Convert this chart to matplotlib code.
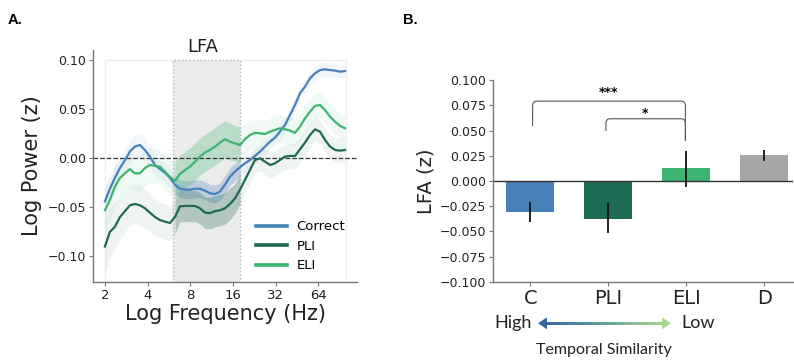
import numpy as np
import matplotlib
matplotlib.use("Agg")
import matplotlib.pyplot as plt
from matplotlib.patches import Rectangle, Polygon, PathPatch
from matplotlib.path import Path
from matplotlib.colors import LinearSegmentedColormap

# ---- data: panel A (power spectra) ----
freqs = [2.00, 2.17, 2.35, 2.55, 2.77, 3.00, 3.26, 3.53, 3.83, 4.15, 4.51, 4.89,
         5.30, 5.75, 6.24, 6.76, 7.34, 7.96, 8.63, 9.36, 10.15, 11.01, 11.94,
         12.95, 14.05, 15.24, 16.53, 17.93, 19.44, 21.09, 22.87, 24.81, 26.91,
         29.19, 31.66, 34.33, 37.25, 40.40, 43.81, 47.52, 51.55, 55.92, 60.64,
         65.78, 71.35, 77.39, 83.94, 91.05, 98.76]

correct = [-0.044, -0.031, -0.020, -0.010, -0.002, 0.007, 0.012,
           0.0136, 0.0085, 0.0017, -0.0068, -0.011, -0.0146, -0.020,
           -0.027, -0.031, -0.032, -0.032, -0.031, -0.031, -0.033,
           -0.0357, -0.0364, -0.034, -0.027, -0.0187, -0.0136, -0.0092,
           -0.0051, -0.0017, 0.0024, 0.0068, 0.0119, 0.017, 0.021,
           0.0272, 0.034, 0.0442, 0.0544, 0.0663, 0.0731, 0.0816,
           0.0867, 0.090, 0.0908, 0.090, 0.0895, 0.0884, 0.089]
pli = [-0.090, -0.075, -0.070, -0.060, -0.054, -0.048, -0.0466,
       -0.048, -0.051, -0.0554, -0.060, -0.063, -0.0646, -0.066,
       -0.060, -0.049, -0.0486, -0.0486, -0.0486, -0.051, -0.0554,
       -0.056, -0.054, -0.053, -0.051, -0.0466, -0.041, -0.032,
       -0.022, -0.012, -0.0017, 0.0, -0.0034, -0.0068, -0.0051,
       -0.0017, 0.0017, 0.0024, 0.0024, 0.0092, 0.016, 0.0238,
       0.0296, 0.0272, 0.0187, 0.012, 0.0085, 0.0078, 0.0085]
eli = [-0.053, -0.0425, -0.029, -0.020, -0.0153, -0.011, -0.0153,
       -0.0153, -0.010, -0.0068, -0.0078, -0.0085, -0.0136, -0.019,
       -0.023, -0.016, -0.012, -0.0085, -0.0034, 0.0017, 0.0058,
       0.0085, 0.0119, 0.016, 0.0194, 0.017, 0.0153, 0.0136,
       0.0194, 0.0238, 0.026, 0.0255, 0.0248, 0.0272, 0.029,
       0.0306, 0.0296, 0.0282, 0.026, 0.0323, 0.0408, 0.0476,
       0.0534, 0.0544, 0.0493, 0.0425, 0.0374, 0.033, 0.0306]

correct_sem = [0.016, 0.015, 0.014, 0.013, 0.012, 0.012, 0.012,
               0.012, 0.012, 0.011, 0.011, 0.010, 0.010, 0.010,
               0.010, 0.009, 0.009, 0.009, 0.009, 0.009, 0.009,
               0.009, 0.009, 0.009, 0.009, 0.009, 0.009, 0.009,
               0.008, 0.008, 0.008, 0.008, 0.008, 0.008, 0.008,
               0.008, 0.008, 0.008, 0.008, 0.007, 0.007, 0.007,
               0.007, 0.007, 0.007, 0.007, 0.006, 0.006, 0.006]
pli_sem = [0.028, 0.026, 0.024, 0.022, 0.021, 0.020, 0.020,
           0.020, 0.020, 0.019, 0.019, 0.018, 0.018, 0.018,
           0.017, 0.016, 0.016, 0.016, 0.016, 0.016, 0.016,
           0.016, 0.016, 0.016, 0.016, 0.016, 0.015, 0.015,
           0.014, 0.014, 0.013, 0.013, 0.013, 0.013, 0.013,
           0.013, 0.013, 0.013, 0.013, 0.013, 0.013, 0.013,
           0.012, 0.012, 0.012, 0.012, 0.012, 0.012, 0.012]
eli_sem = [0.022, 0.021, 0.020, 0.019, 0.018, 0.018, 0.018,
           0.018, 0.018, 0.018, 0.018, 0.018, 0.018, 0.018,
           0.019, 0.019, 0.019, 0.019, 0.019, 0.019, 0.019,
           0.019, 0.019, 0.019, 0.019, 0.019, 0.018, 0.018,
           0.016, 0.015, 0.014, 0.014, 0.014, 0.014, 0.014,
           0.014, 0.014, 0.014, 0.014, 0.014, 0.014, 0.014,
           0.013, 0.013, 0.013, 0.013, 0.013, 0.013, 0.013]

lfa_band = [6, 18]
freq_ticks = [2, 4, 8, 16, 32, 64]

# ---- data: panel B (LFA bars) ----
conditions = ["C", "PLI", "ELI", "D"]
lfa_mean = [-0.0303, -0.0375, 0.0128, 0.026]
lfa_lo = [-0.0408, -0.0517, -0.0056, 0.020]
lfa_hi = [-0.0204, -0.022, 0.030, 0.0306]

col_c = "#4682b9"
col_pli = "#1e6a55"
col_eli = "#3db470"
col_d = "#a6a6a6"

W, H = 794, 360
fig = plt.figure(figsize=(W / 100, H / 100), dpi=100)
spine_col = "#777777"
txt_col = "#222222"


def px_axes(left, top, right, bottom):
    return fig.add_axes([left / W, 1 - bottom / H, (right - left) / W, (bottom - top) / H])


# ================= Panel A =================
axA = px_axes(92.7, 50, 357.3, 281.7)
axA.set_xscale("log", base=2)
ylo, yhi = -0.1259, 0.1105
axA.set_xlim(1.64, 120.5)
axA.set_ylim(ylo, yhi)

axA.add_patch(Rectangle((2, ylo), 98, 0.10 - ylo, fill=False, ec="#efefef", lw=1, zorder=0))
axA.add_patch(Rectangle((lfa_band[0], ylo), lfa_band[1] - lfa_band[0], 0.10 - ylo,
                        fc="#ebebeb", ec="#b8b8b8", ls=":", lw=1, zorder=0))

f = np.array(freqs)
inband = (f >= lfa_band[0]) & (f <= lfa_band[1])
series = [("Correct", correct, correct_sem, col_c),
          ("PLI", pli, pli_sem, col_pli),
          ("ELI", eli, eli_sem, col_eli)]
for name, m, s, c in series:
    m = np.array(m)
    s = np.array(s)
    axA.fill_between(f, m - s, m + s, color=c, alpha=0.07, lw=0, zorder=1)
    axA.fill_between(f, m - s, m + s, where=inband, color=c, alpha=0.22, lw=0, zorder=1)
for name, m, s, c in series:
    axA.plot(f, m, color=c, lw=1.6, label=name, zorder=3)

axA.axhline(0, color="#333333", lw=0.9, ls="--", zorder=2)

axA.set_xticks(freq_ticks)
axA.set_xticklabels([str(t) for t in freq_ticks])
axA.xaxis.set_minor_locator(matplotlib.ticker.NullLocator())
axA.set_yticks([-0.10, -0.05, 0.0, 0.05, 0.10])
axA.set_yticklabels(["\u22120.10", "\u22120.05", "0.00", "0.05", "0.10"])
axA.set_xlabel("Log Frequency (Hz)", fontsize=15, labelpad=2, color=txt_col)
axA.set_ylabel("Log Power (z)", fontsize=15, labelpad=4, color=txt_col)

leg = axA.legend(loc="lower right", bbox_to_anchor=(1.0, -0.01), frameon=False,
                 fontsize=9.5, handlelength=2.4, labelspacing=0.48, handletextpad=0.7)
for ln in leg.get_lines():
    ln.set_linewidth(2.6)

# ================= Panel B =================
axB = px_axes(493.3, 80.3, 793, 281.7)
x = np.arange(len(conditions))
axB.bar(x, lfa_mean, width=0.62, color=[col_c, col_pli, col_eli, col_d], zorder=2)
axB.vlines(x, lfa_lo, lfa_hi, color="#111111", lw=1.3, zorder=3)
axB.axhline(0, color="#333333", lw=1.0, zorder=2)
axB.set_xlim(-0.474, 3.37)
axB.set_ylim(-0.1, 0.1)
axB.set_yticks(np.arange(-0.1, 0.1001, 0.025))
axB.set_yticklabels(["\u22120.100", "\u22120.075", "\u22120.050", "\u22120.025",
                     "0.000", "0.025", "0.050", "0.075", "0.100"])
axB.set_xticks(x)
axB.set_xticklabels(conditions, fontsize=14, color=txt_col)
axB.set_ylabel("LFA (z)", fontsize=14, labelpad=3, color=txt_col)


def bracket(ax, x0, yb0, x1, yb1, yt, dx=0.05, dy=0.005):
    verts = [(x0, yb0), (x0, yt - dy), (x0, yt), (x0 + dx, yt),
             (x1 - dx, yt), (x1, yt), (x1, yt - dy), (x1, yb1)]
    codes = [Path.MOVETO, Path.LINETO, Path.CURVE3, Path.CURVE3,
             Path.LINETO, Path.CURVE3, Path.CURVE3, Path.LINETO]
    ax.add_patch(PathPatch(Path(verts, codes), fill=False, ec="#555555", lw=0.8, zorder=4))


bracket(axB, 0.03, 0.0546, 1.99, 0.0398, 0.0793)
bracket(axB, 0.97, 0.0497, 1.99, 0.0398, 0.0618)
axB.text(1.0, 0.0875, "***", ha="center", va="center", fontsize=9, fontweight="bold")
axB.text(1.47, 0.0675, "*", ha="center", va="center", fontsize=9, fontweight="bold")

for ax in (axA, axB):
    for sp in ("top", "right"):
        ax.spines[sp].set_visible(False)
    for sp in ("left", "bottom"):
        ax.spines[sp].set_color(spine_col)
        ax.spines[sp].set_linewidth(1.0)
    ax.tick_params(axis="both", length=3, width=0.8, color=spine_col, pad=2)
    ax.tick_params(axis="y", labelsize=9, labelcolor=txt_col)
axA.tick_params(axis="x", labelsize=9.5, labelcolor=txt_col)

# ================= overlay: panel letters, title, similarity arrow =================
ov = fig.add_axes([0, 0, 1, 1])
ov.set_xlim(0, W)
ov.set_ylim(H, 0)
ov.axis("off")

ov.text(8, 20, "A.", fontsize=10.5, fontweight="bold", family="Liberation Sans", va="center")
ov.text(403, 20, "B.", fontsize=10.5, fontweight="bold", family="Liberation Sans", va="center")
ov.text(203, 47, "LFA", fontsize=13, ha="center", va="center", color=txt_col)

grad = LinearSegmentedColormap.from_list("ts", ["#3a65a2", "#6a9e9c", "#a8da8c"])
ov.imshow(np.linspace(0, 1, 256)[None, :], cmap=grad, aspect="auto",
          extent=[545, 664, 324.8, 321.8], zorder=3)
ov.add_patch(Polygon([[538, 323.3], [547, 317.3], [547, 329.3]], closed=True,
                     fc="#3a65a2", ec="none", zorder=4))
ov.add_patch(Polygon([[671, 323.3], [662, 317.3], [662, 329.3]], closed=True,
                     fc="#a8da8c", ec="none", zorder=4))
ov.set_xlim(0, W)
ov.set_ylim(H, 0)

ov.text(513, 323, "High", fontsize=13, family="Lato", ha="center", va="center", color=txt_col)
ov.text(698, 323, "Low", fontsize=13, family="Lato", ha="center", va="center", color=txt_col)
ov.text(604, 350, "Temporal Similarity", fontsize=11.5, family="Lato",
        ha="center", va="center", color=txt_col)

fig.savefig("out.png", dpi=100)
